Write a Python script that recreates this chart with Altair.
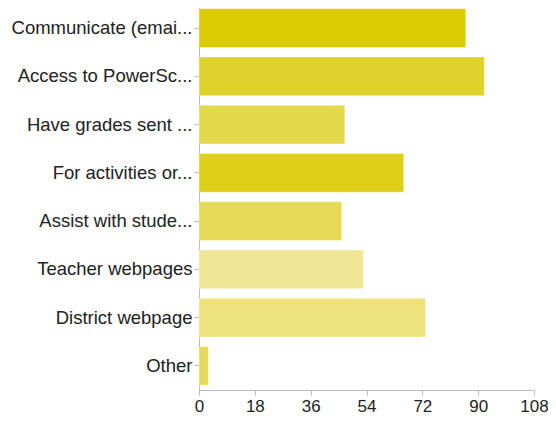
import altair as alt
import pandas as pd

categories = [
    "Communicate (emai...",
    "Access to PowerSc...",
    "Have grades sent ...",
    "For activities or...",
    "Assist with stude...",
    "Teacher webpages",
    "District webpage",
    "Other",
]
values = [86, 92, 47, 66, 46, 53, 73, 3]
colors = ["#dccb00", "#e0d22c", "#e4d84b", "#dfcf19", "#e5d955", "#f0e796", "#ede27c", "#e8db5a"]
x_ticks = [0, 18, 36, 54, 72, 90, 108]

df = pd.DataFrame({"category": categories, "value": values, "color": colors})

chart = (
    alt.Chart(df)
    .mark_bar(strokeWidth=1, strokeOpacity=0.35, stroke="#ffffff")
    .encode(
        y=alt.Y(
            "category:N",
            sort=categories,
            title=None,
            scale=alt.Scale(paddingInner=0.2, paddingOuter=0.1),
            axis=alt.Axis(
                labelFont="Liberation Sans",
                labelFontSize=18.5,
                labelColor="#222222",
                labelPadding=2,
                tickSize=5,
                tickColor="#bbbbbb",
                domainColor="#bbbbbb",
                labelLimit=300,
            ),
        ),
        x=alt.X(
            "value:Q",
            title=None,
            scale=alt.Scale(domain=[0, 108], nice=False),
            axis=alt.Axis(
                values=x_ticks,
                grid=False,
                labelFont="Liberation Sans",
                labelFontSize=17,
                labelColor="#222222",
                tickSize=5,
                tickColor="#bbbbbb",
                domainColor="#bbbbbb",
                labelPadding=3,
                labelFlush=False,
            ),
        ),
        color=alt.Color("color:N", scale=None, legend=None),
    )
    .properties(
        width=335,
        height=386,
        autosize=alt.AutoSizeParams(type="none"),
        padding={"left": 191, "top": -4, "right": 14, "bottom": 30},
    )
    .configure_view(stroke=None)
)

chart.save("out.html", embed_options={"renderer": "svg", "actions": False})
